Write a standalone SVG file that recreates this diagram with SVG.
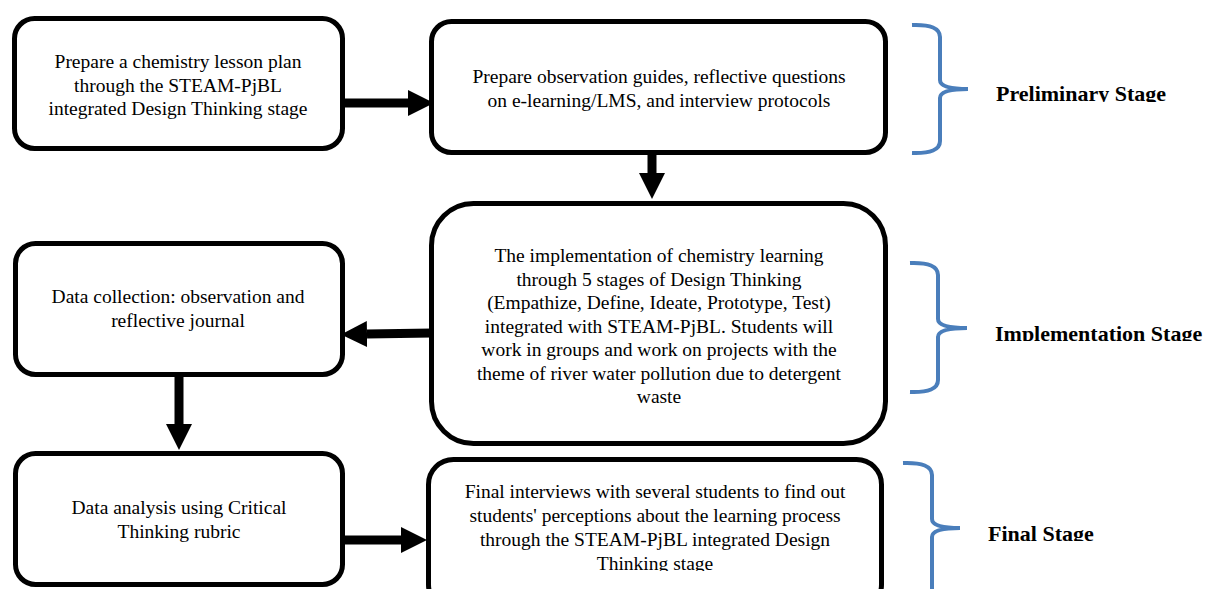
<svg xmlns="http://www.w3.org/2000/svg" width="1211" height="589" viewBox="0 0 1211 589">
<style>
.box{fill:#fff;stroke:#000;stroke-width:5}
.t{font-family:'Liberation Serif','DejaVu Serif',serif;font-size:19.5px;fill:#000;text-anchor:middle}
.lbl{font-family:'Liberation Serif','DejaVu Serif',serif;font-size:22px;font-weight:bold;fill:#000}
.br{fill:none;stroke:#4A7EBB;stroke-width:4;stroke-linecap:butt}
.sh{stroke:#000;stroke-width:9;fill:none}
</style>
<defs>
<marker id="ah" viewBox="0 0 26 26" refX="0" refY="13" markerWidth="26" markerHeight="26" markerUnits="userSpaceOnUse" orient="auto">
<path d="M0,0 L26,13 L0,26 z" fill="#000"/>
</marker>
<clipPath id="c1"><rect x="980" y="60" width="231" height="42"/></clipPath>
<clipPath id="c2"><rect x="980" y="300" width="231" height="41"/></clipPath>
<clipPath id="c3"><rect x="980" y="500" width="231" height="41"/></clipPath>
<clipPath id="c6"><rect x="430" y="460" width="450" height="111"/></clipPath>
</defs>
<g id="connectors">
<line class="sh" x1="345" y1="103" x2="408" y2="103" marker-end="url(#ah)"/>
<line class="sh" x1="652" y1="153" x2="652" y2="173" marker-end="url(#ah)"/>
<line class="sh" x1="432" y1="333" x2="367" y2="334" marker-end="url(#ah)"/>
<line class="sh" x1="179" y1="375" x2="179" y2="424" marker-end="url(#ah)"/>
<line class="sh" x1="345" y1="540" x2="401" y2="540" marker-end="url(#ah)"/>
</g>
<g id="n1">
<rect class="box" x="14.5" y="18.5" width="328" height="130" rx="20"/>
<text class="t"><tspan x="178" y="68">Prepare a chemistry lesson plan</tspan><tspan x="178" y="91.5">through the STEAM-PjBL</tspan><tspan x="178" y="115">integrated Design Thinking stage</tspan></text>
</g>
<g id="n2">
<rect class="box" x="431.5" y="21.5" width="454" height="131" rx="20"/>
<text class="t"><tspan x="659" y="83">Prepare observation guides, reflective questions</tspan><tspan x="659" y="107">on e-learning/LMS, and interview protocols</tspan></text>
</g>
<g id="n3">
<rect class="box" x="431.5" y="203.5" width="454" height="240" rx="42"/>
<text class="t"><tspan x="659" y="262">The implementation of chemistry learning</tspan><tspan x="659" y="285.5">through 5 stages of Design Thinking</tspan><tspan x="659" y="309">(Empathize, Define, Ideate, Prototype, Test)</tspan><tspan x="659" y="332.5">integrated with STEAM-PjBL. Students will</tspan><tspan x="659" y="356">work in groups and work on projects with the</tspan><tspan x="659" y="379.5">theme of river water pollution due to detergent</tspan><tspan x="659" y="403">waste</tspan></text>
</g>
<g id="n4">
<rect class="box" x="15.5" y="243.5" width="327" height="131" rx="20"/>
<text class="t"><tspan x="178" y="303">Data collection: observation and</tspan><tspan x="178" y="327">reflective journal</tspan></text>
</g>
<g id="n5">
<rect class="box" x="15.5" y="453.5" width="327" height="131" rx="20"/>
<text class="t"><tspan x="179" y="514">Data analysis using Critical</tspan><tspan x="179" y="538">Thinking rubric</tspan></text>
</g>
<g id="n6">
<rect class="box" x="428.5" y="459.5" width="453" height="150" rx="25"/>
<text class="t" clip-path="url(#c6)"><tspan x="655" y="498">Final interviews with several students to find out</tspan><tspan x="655" y="522">students' perceptions about the learning process</tspan><tspan x="655" y="546">through the STEAM-PjBL integrated Design</tspan><tspan x="655" y="569.5">Thinking stage</tspan></text>
</g>
<g id="stage1">
<path class="br" d="M912,25 Q940,24 940,37 L940,80 Q940,89 968,89 Q940,89 940,98 L940,141 Q940,154 912,153"/>
<text class="lbl" x="996" y="101" clip-path="url(#c1)">Preliminary Stage</text>
</g>
<g id="stage2">
<path class="br" d="M910,263 Q938,262 938,275 L938,319 Q938,328 967,328 Q938,328 938,337 L938,380 Q938,393 910,392"/>
<text class="lbl" x="995" y="341" clip-path="url(#c2)">Implementation Stage</text>
</g>
<g id="stage3">
<path class="br" d="M903,463 Q932,462 932,475 L932,519 Q932,528 960,528 Q932,528 932,537 L932,600"/>
<text class="lbl" x="988" y="541" clip-path="url(#c3)">Final Stage</text>
</g>
</svg>
